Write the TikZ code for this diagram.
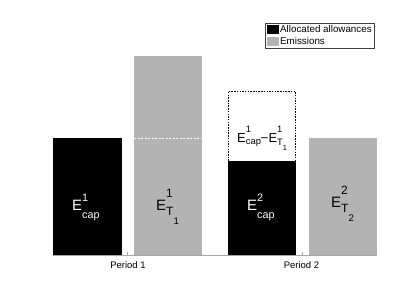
\documentclass[tikz,border=0pt]{standalone}
\usepackage{fontspec}
\setmainfont{Liberation Sans}
\usepackage{graphicx}
\definecolor{bargray}{RGB}{179,179,179}
% E with stacked superscript (#1) and subscript (#2); #3 raise, #4 lower, #5 script scale
\newcommand{\Es}[5]{E\rlap{\raisebox{#3}{\scalebox{#5}{#1}}}\raisebox{#4}{\scalebox{#5}{#2}}}
\newcommand{\Tsub}[2]{T\raisebox{#2}{\scalebox{0.8}{#1}}}
\tikzset{
  blackbar/.style={fill=black},
  graybar/.style={fill=bargray},
  biglbl/.style={anchor=base west,inner sep=0pt,font=\fontsize{15}{15}\selectfont},
  blacklbl/.style={biglbl,text=white},
  graylbl/.style={biglbl,text=black},
  smalllbl/.style={anchor=base west,inner sep=0pt,font=\fontsize{13}{13}\selectfont},
  ticklbl/.style={anchor=base,inner sep=0pt,font=\fontsize{9.5}{9.5}\selectfont},
  leglbl/.style={anchor=west,inner sep=0pt,font=\fontsize{9.8}{9.8}\selectfont},
}
\begin{document}
\begin{tikzpicture}[x=1pt,y=-1pt]
\useasboundingbox (0,0) rectangle (415,288);
% bars
\fill[blackbar] (53,138) rectangle (122,255.5);
\fill[graybar] (134,56.5) rectangle (202,255.5);
\draw[white,line width=0.8pt,dash pattern=on 2pt off 1.5pt] (134,138.5) -- (202,138.5);
\fill[blackbar] (228,161) rectangle (295.5,255.5);
\draw[black,line width=0.6pt,dash pattern=on 1.5pt off 1.2pt] (228,161) -- (228,91.5) -- (295.5,91.5) -- (295.5,161);
\fill[graybar] (309,138) rectangle (376.5,255.5);
% axis
\draw[gray!70,line width=0.5pt] (53,255.5) -- (376.5,255.5);
\draw[gray!70,line width=0.5pt] (127.5,255.5) -- (127.5,252.5);
\draw[gray!70,line width=0.5pt] (302,255.5) -- (302,252.5);
% labels
\node[blacklbl] (l1) at (72,211) {\Es{1}{cap}{0.6em}{-0.47em}{0.72}};
\node[graylbl] (l2) at (156,211) {\Es{1}{\Tsub{1}{-0.75em}}{0.87em}{-0.27em}{0.8}};
\node[blacklbl] (l3) at (247,211) {\Es{2}{cap}{0.6em}{-0.47em}{0.72}};
\node[graylbl] (l4) at (331,208) {\Es{2}{\Tsub{2}{-0.75em}}{0.87em}{-0.27em}{0.8}};
\node[smalllbl] (l5) at (237,143) {\Es{1}{cap}{0.8em}{-0.15em}{0.72}\char"2212\relax\Es{1}{\Tsub{1}{-0.5em}}{0.8em}{-0.2em}{0.72}};
\node[ticklbl] (p1) at (128,269) {Period 1};
\node[ticklbl] (p2) at (301.5,269) {Period 2};
% legend
\draw[black!75,line width=0.5pt,fill=white] (265,23) rectangle (374,48);
\fill[black] (267,25) rectangle (279,34);
\fill[bargray] (267,37) rectangle (279,46);
\node[leglbl] (g1) at (280,29.5) {Allocated allowances};
\node[leglbl] (g2) at (280,41.5) {Emissions};
\end{tikzpicture}
\end{document}
